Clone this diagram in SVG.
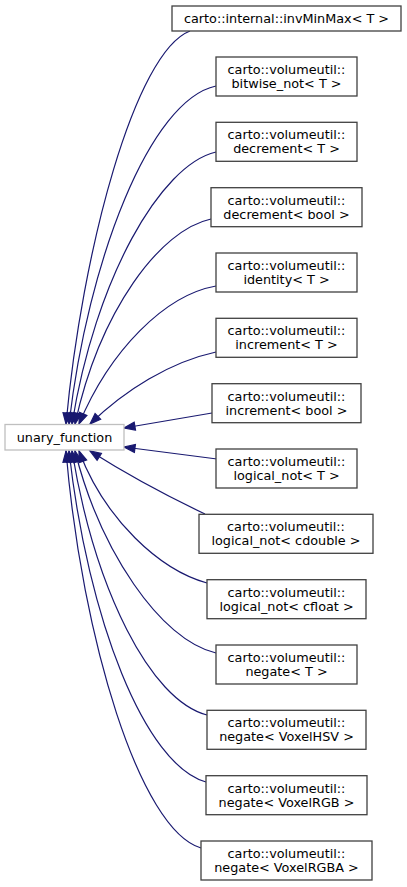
<svg xmlns="http://www.w3.org/2000/svg" width="407" height="887" viewBox="0 0 407 887">
<style>
.n rect{fill:#fff;stroke:#404040;stroke-width:1.3}
.r rect{fill:#fff;stroke:#bfbfbf;stroke-width:1.3}
text{font-family:"DejaVu Sans","Liberation Sans",sans-serif;font-size:12.8px;fill:#000;text-anchor:middle}
.e path{fill:none;stroke:#191970;stroke-width:1.2;marker-end:url(#a)}
</style>
<defs>
<marker id="a" markerUnits="userSpaceOnUse" markerWidth="14" markerHeight="12" refX="12" refY="4.5" orient="auto" overflow="visible">
<path d="M1,0.5 L12,4.5 L1,8.5 z" fill="#191970" stroke="#191970" stroke-width="1.2"/>
</marker>
</defs>
<rect width="407" height="887" fill="#fff"/>
<g class="e" id="edges">
<path d="M190,31 C135,52 82,250 66,424"/>
<path d="M216,86 C150,100 88,260 69,424"/>
<path d="M216,152 C160,165 95,280 72,424"/>
<path d="M211,219 C160,230 100,310 75,424"/>
<path d="M216,286 C165,295 110,350 79,424"/>
<path d="M216,352 C170,362 125,390 90,424"/>
<path d="M212,413 L124,428"/>
<path d="M217,459 L124,447"/>
<path d="M205,514 C165,495 120,470 90,451"/>
<path d="M207,583 C160,570 105,520 79,451"/>
<path d="M216,653 C160,640 100,550 75,451"/>
<path d="M207,715 C150,700 95,590 72,451"/>
<path d="M206,782 C145,765 88,620 69,451"/>
<path d="M201,848 C140,830 82,640 66,451"/>
</g>
<g class="r" id="unary_function"><rect x="5" y="424.5" width="119" height="25.5"/><text x="64.5" y="442">unary_function</text></g>
<g class="n" id="invMinMax"><rect x="172" y="6" width="229" height="25"/><text x="286.5" y="23">carto::internal::invMinMax&lt; T &gt;</text></g>
<g class="n" id="bitwise_not"><rect x="216" y="57" width="141" height="39"/><text x="286.5" y="74">carto::volumeutil::</text><text x="286.5" y="88">bitwise_not&lt; T &gt;</text></g>
<g class="n" id="decrement_T"><rect x="216" y="122.3" width="141" height="39"/><text x="286.5" y="139.3">carto::volumeutil::</text><text x="286.5" y="153.3">decrement&lt; T &gt;</text></g>
<g class="n" id="decrement_bool"><rect x="211" y="187.7" width="151" height="39"/><text x="286.5" y="204.7">carto::volumeutil::</text><text x="286.5" y="218.7">decrement&lt; bool &gt;</text></g>
<g class="n" id="identity"><rect x="216" y="253" width="141" height="39"/><text x="286.5" y="270">carto::volumeutil::</text><text x="286.5" y="284">identity&lt; T &gt;</text></g>
<g class="n" id="increment_T"><rect x="216" y="318.3" width="141" height="39"/><text x="286.5" y="335.3">carto::volumeutil::</text><text x="286.5" y="349.3">increment&lt; T &gt;</text></g>
<g class="n" id="increment_bool"><rect x="212" y="383.7" width="149" height="39"/><text x="286.5" y="400.7">carto::volumeutil::</text><text x="286.5" y="414.7">increment&lt; bool &gt;</text></g>
<g class="n" id="logical_not_T"><rect x="216" y="449" width="141" height="39"/><text x="286.5" y="466">carto::volumeutil::</text><text x="286.5" y="480">logical_not&lt; T &gt;</text></g>
<g class="n" id="logical_not_cdouble"><rect x="199" y="514.3" width="174" height="39"/><text x="286" y="531.3">carto::volumeutil::</text><text x="286" y="545.3">logical_not&lt; cdouble &gt;</text></g>
<g class="n" id="logical_not_cfloat"><rect x="207" y="579.7" width="159" height="39"/><text x="286.5" y="596.7">carto::volumeutil::</text><text x="286.5" y="610.7">logical_not&lt; cfloat &gt;</text></g>
<g class="n" id="negate_T"><rect x="216" y="645" width="141" height="39"/><text x="286.5" y="662">carto::volumeutil::</text><text x="286.5" y="676">negate&lt; T &gt;</text></g>
<g class="n" id="negate_VoxelHSV"><rect x="207" y="710.3" width="159" height="39"/><text x="286.5" y="727.3">carto::volumeutil::</text><text x="286.5" y="741.3">negate&lt; VoxelHSV &gt;</text></g>
<g class="n" id="negate_VoxelRGB"><rect x="206" y="775.7" width="161" height="39"/><text x="286.5" y="792.7">carto::volumeutil::</text><text x="286.5" y="806.7">negate&lt; VoxelRGB &gt;</text></g>
<g class="n" id="negate_VoxelRGBA"><rect x="201" y="841" width="171" height="39"/><text x="286.5" y="858">carto::volumeutil::</text><text x="286.5" y="872">negate&lt; VoxelRGBA &gt;</text></g>
</svg>
